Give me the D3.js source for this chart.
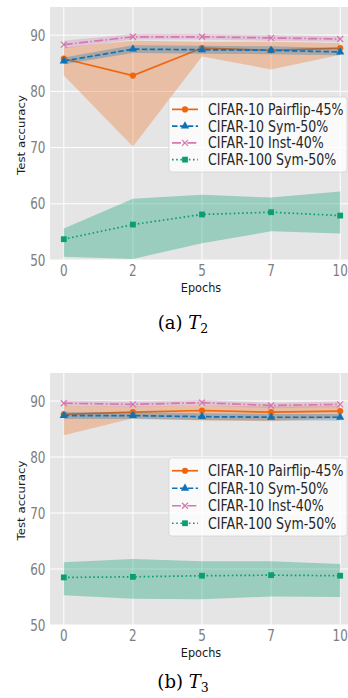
<!DOCTYPE html>
<html>
<head>
<meta charset="utf-8">
<script src="https://cdn.jsdelivr.net/npm/d3@7"></script>
<style>
  body { margin: 0; background: #fff; }
  svg { display: block; }
</style>
</head>
<body>
<script>
const epochs = ['0', '2', '5', '7', '10'];
const seriesNames = ['CIFAR-10 Pairflip-45%', 'CIFAR-10 Sym-50%', 'CIFAR-10 Inst-40%', 'CIFAR-100 Sym-50%'];
const yTicks = [50, 60, 70, 80, 90];

// (a) T2
const pairflipT2 = [85.8, 82.8, 87.7, 87.3, 87.7];
const pairflipT2Lo = [82.8, 70.2, 86.2, 83.9, 86.5];
const pairflipT2Hi = [87.8, 89.0, 88.8, 88.8, 88.6];
const symT2 = [85.4, 87.5, 87.4, 87.3, 87.0];
const symT2Lo = [84.8, 86.8, 86.7, 86.6, 86.4];
const symT2Hi = [86.0, 88.2, 88.1, 88.0, 87.7];
const instT2 = [88.3, 89.7, 89.7, 89.5, 89.3];
const instT2Lo = [87.6, 89.2, 89.2, 89.0, 88.8];
const instT2Hi = [89.0, 90.2, 90.2, 90.0, 89.8];
const c100T2 = [53.7, 56.3, 58.1, 58.5, 57.9];
const c100T2Lo = [50.6, 50.2, 53.0, 55.1, 54.7];
const c100T2Hi = [55.6, 60.9, 61.6, 61.1, 62.2];

// (b) T3
const pairflipT3 = [87.6, 88.0, 88.3, 88.0, 88.2];
const pairflipT3Lo = [83.9, 86.9, 86.5, 86.4, 87.0];
const pairflipT3Hi = [89.1, 89.0, 89.2, 89.0, 89.1];
const symT3 = [87.4, 87.4, 87.2, 87.1, 87.1];
const symT3Lo = [86.8, 86.8, 86.6, 86.5, 86.5];
const symT3Hi = [88.0, 88.0, 87.8, 87.7, 87.7];
const instT3 = [89.6, 89.4, 89.7, 89.2, 89.4];
const instT3Lo = [89.1, 88.9, 89.2, 88.7, 88.9];
const instT3Hi = [90.1, 89.9, 90.2, 89.7, 89.9];
const c100T3 = [58.5, 58.6, 58.8, 58.9, 58.8];
const c100T3Lo = [55.3, 54.7, 54.6, 55.1, 55.0];
const c100T3Hi = [61.2, 61.8, 61.4, 61.4, 60.9];

const colors = ['#f0660f', '#0f72b4', '#d27aaf', '#0a9e73'];
const dashes = [null, '5.5,2.4', '9,2.4,1.5,2.4', '1.6,2.6'];
const markers = ['circle', 'triangle', 'cross', 'square'];

const W = 348, H = 698;
const svg = d3.select('body').append('svg').attr('width', W).attr('height', H);

const sy = 1.25;  // the source image is a bit stretched vertically

function stretchedText(g, x, y, str, size, k) {
    return g.append('text')
        .attr('transform', `translate(${x},${y}) scale(1,${k})`)
        .attr('font-family', 'DejaVu Sans, sans-serif')
        .attr('font-size', size)
        .text(str);
}

function drawMarker(g, type, x, y, color) {
    if (type === 'circle') {
        g.append('circle').attr('cx', x).attr('cy', y).attr('r', 3.1).attr('fill', color);
    } else if (type === 'triangle') {
        g.append('path').attr('d', d3.symbol(d3.symbolTriangle, 30)())
            .attr('transform', `translate(${x},${y})`).attr('fill', color);
    } else if (type === 'square') {
        g.append('rect').attr('x', x - 2.9).attr('y', y - 2.9).attr('width', 5.8).attr('height', 5.8).attr('fill', color);
    } else {
        const s = 3;
        g.append('path').attr('d', `M${x - s},${y - s}L${x + s},${y + s}M${x - s},${y + s}L${x + s},${y - s}`)
            .attr('stroke', color).attr('stroke-width', 1.2).attr('fill', 'none');
    }
}

function makePanel(top, bottom, series, caption, sub, captionY, legendBox) {
    const left = 50, right = 354;
    const g = svg.append('g');
    const scX = d3.scaleLinear().domain([-0.2, epochs.length - 1 + 0.2]).range([left, right]);
    const scY = d3.scaleLinear().domain([50, 95]).range([bottom, top]);

    g.append('rect').attr('x', left).attr('y', top).attr('width', right - left).attr('height', bottom - top).attr('fill', '#e5e5e5');

    // grid
    g.selectAll('.hg').data(yTicks).enter().append('line')
        .attr('x1', left).attr('x2', right)
        .attr('y1', d => scY(d)).attr('y2', d => scY(d))
        .attr('stroke', '#fff').attr('stroke-width', 1);
    g.selectAll('.vg').data(epochs).enter().append('line')
        .attr('x1', (d, i) => scX(i)).attr('x2', (d, i) => scX(i))
        .attr('y1', top).attr('y2', bottom)
        .attr('stroke', '#fff').attr('stroke-width', 1);

    // tick labels
    yTicks.forEach(t => {
        stretchedText(g, 45.5, scY(t), String(t), 12, sy)
            .attr('text-anchor', 'end').attr('dominant-baseline', 'central').attr('fill', '#7d7d7d');
    });
    epochs.forEach((e, i) => {
        stretchedText(g, scX(i), bottom + 16, e, 12, sy)
            .attr('text-anchor', 'middle').attr('fill', '#7d7d7d');
    });

    stretchedText(g, 201, bottom + 31.5, 'Epochs', 11.3, 1.15)
        .attr('text-anchor', 'middle').attr('fill', '#1a1a1a');
    g.append('text')
        .attr('transform', `translate(25,${(top + bottom) / 2 + 1.5}) rotate(-90) scale(1.12,1)`)
        .attr('text-anchor', 'middle')
        .attr('font-family', 'DejaVu Sans, sans-serif').attr('font-size', 10.5)
        .attr('fill', '#1a1a1a')
        .text('Test accuracy');

    const line = d3.line().x((d, i) => scX(i)).y(d => scY(d));
    const area = d3.area().x((d, i) => scX(i)).y0(d => scY(d[0])).y1(d => scY(d[1]));

    series.forEach((s, k) => {
        g.append('path').datum(s.lo.map((v, i) => [v, s.hi[i]]))
            .attr('d', area).attr('fill', colors[k]).attr('fill-opacity', k === 3 ? 0.34 : 0.3);
        const p = g.append('path').datum(s.mean).attr('d', line)
            .attr('fill', 'none').attr('stroke', colors[k]).attr('stroke-width', 1.7);
        if (dashes[k]) p.attr('stroke-dasharray', dashes[k]);
        s.mean.forEach((v, i) => drawMarker(g, markers[k], scX(i), scY(v), colors[k]));
    });

    // legend
    const lg = g.append('g');
    lg.append('rect').attr('x', legendBox[0]).attr('y', legendBox[1])
        .attr('width', legendBox[2]).attr('height', legendBox[3]).attr('rx', 3)
        .attr('fill', '#ffffff').attr('fill-opacity', 0.8).attr('stroke', '#d4d4d4').attr('stroke-width', 0.8);
    const rowH = (legendBox[3] - 8) / seriesNames.length;
    seriesNames.forEach((name, k) => {
        const y = legendBox[1] + 4 + rowH * (k + 0.5);
        const hl = lg.append('line').attr('x1', 172).attr('x2', 198).attr('y1', y).attr('y2', y)
            .attr('stroke', colors[k]).attr('stroke-width', 1.7);
        if (dashes[k]) hl.attr('stroke-dasharray', dashes[k]);
        drawMarker(lg, markers[k], 185, y, colors[k]);
        stretchedText(lg, 208, y, name, 12.6, sy)
            .attr('dominant-baseline', 'central').attr('fill', '#262626');
    });

    // caption
    const cap = svg.append('text').attr('x', 183).attr('y', captionY)
        .attr('text-anchor', 'middle')
        .attr('font-family', 'DejaVu Serif, serif').attr('font-size', 18).attr('fill', '#000');
    cap.append('tspan').text(caption + ' ');
    cap.append('tspan').attr('font-style', 'italic').text('T');
    cap.append('tspan').attr('font-size', 12.5).attr('dy', 4).text(sub);
}

makePanel(7, 260, [
    { mean: pairflipT2, lo: pairflipT2Lo, hi: pairflipT2Hi },
    { mean: symT2, lo: symT2Lo, hi: symT2Hi },
    { mean: instT2, lo: instT2Lo, hi: instT2Hi },
    { mean: c100T2, lo: c100T2Lo, hi: c100T2Hi },
], '(a)', '2', 329, [169, 97, 178, 75]);

makePanel(373, 625, [
    { mean: pairflipT3, lo: pairflipT3Lo, hi: pairflipT3Hi },
    { mean: symT3, lo: symT3Lo, hi: symT3Hi },
    { mean: instT3, lo: instT3Lo, hi: instT3Hi },
    { mean: c100T3, lo: c100T3Lo, hi: c100T3Hi },
], '(b)', '3', 688, [169, 458, 178, 78]);
</script>
</body>
</html>
